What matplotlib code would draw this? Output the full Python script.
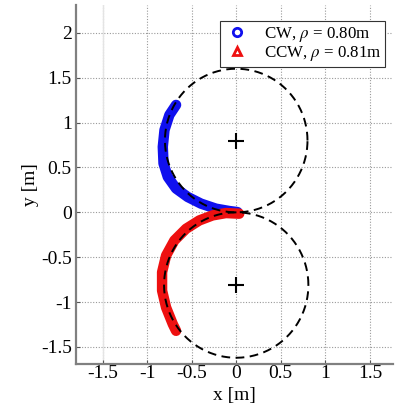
import numpy as np
import matplotlib
matplotlib.use("Agg")
import matplotlib.pyplot as plt
from matplotlib.lines import Line2D

# fitted circles (center, radius)
cw_center = (0.0, 0.80)
cw_radius = 0.80
ccw_center = (0.0, -0.81)
ccw_radius = 0.81

cw_x = [-0.675, -0.75, -0.805, -0.824, -0.816, -0.768, -0.675, -0.544, -0.395, -0.227, -0.078, 0.015]
cw_y = [1.197, 1.085, 0.917, 0.73, 0.545, 0.395, 0.265, 0.171, 0.097, 0.041, 0.015, 0.003]
ccw_x = [0.034, -0.115, -0.265, -0.414, -0.563, -0.694, -0.787, -0.832, -0.832, -0.787, -0.712, -0.675]
ccw_y = [-0.015, -0.008, -0.034, -0.09, -0.183, -0.313, -0.481, -0.667, -0.872, -1.06, -1.245, -1.32]

xticks = [-1.5, -1, -0.5, 0, 0.5, 1, 1.5]
yticks = [-1.5, -1, -0.5, 0, 0.5, 1, 1.5, 2]
xticklabels = ["-1.5", "-1", "-0.5", "0", "0.5", "1", "1.5"]
yticklabels = ["-1.5", "-1", "-0.5", "0", "0.5", "1", "1.5", "2"]

plt.rcParams['font.family'] = ['Liberation Serif', 'DejaVu Serif']
plt.rcParams['mathtext.fontset'] = 'stix'

fig = plt.figure(figsize=(3.95, 4.17), dpi=100)
ax = fig.add_axes([0.192, 0.127, 0.803, 0.861])

# grid
for xv in xticks:
    ax.axvline(xv, color='#9a9a9a', linestyle=(0, (1, 1.5)), linewidth=0.8, zorder=0)
for yv in yticks:
    ax.axhline(yv, color='#9a9a9a', linestyle=(0, (1, 1.5)), linewidth=0.8, zorder=0)
ax.axvline(-1.5, color='#e4e4e4', linewidth=1.0, zorder=0)

# trajectories
ax.plot(cw_x, cw_y, color='#1010ee', linewidth=7.5, solid_capstyle='round',
        solid_joinstyle='round', zorder=2)
ax.plot(ccw_x, ccw_y, color='#ee1010', linewidth=7.5, solid_capstyle='round',
        solid_joinstyle='round', zorder=2)

# fitted circles
t = np.linspace(0, 2 * np.pi, 400)
for (cx, cy), r in [(cw_center, cw_radius), (ccw_center, ccw_radius)]:
    ax.plot(cx + r * np.cos(t), cy + r * np.sin(t), color='black', linewidth=1.4,
            linestyle=(0, (4.5, 2.8)), zorder=3)
    ax.plot(cx, cy, marker='+', color='black', markersize=11, markeredgewidth=1.5, zorder=4)

ax.set_xlim(-1.8, 1.76)
ax.set_ylim(-1.69, 2.31)
ax.set_xticks(xticks)
ax.set_xticklabels(xticklabels)
ax.set_yticks(yticks)
ax.set_yticklabels(yticklabels)
ax.tick_params(direction='in', length=3, width=0.8, color='#555555', labelsize=14)
ax.tick_params(axis='x', pad=1)
ax.tick_params(axis='y', pad=3)

for s in ['top', 'right']:
    ax.spines[s].set_visible(False)
for s in ['left', 'bottom']:
    ax.spines[s].set_color('#808080')
    ax.spines[s].set_linewidth(1.6)

ax.set_xlabel('x [m]', fontsize=14, labelpad=3)
ax.set_ylabel('y [m]', fontsize=14, labelpad=1)

handles = [
    Line2D([], [], linestyle='none', marker='o', markersize=6, markerfacecolor='none',
           markeredgecolor='#1010ee', markeredgewidth=2),
    Line2D([], [], linestyle='none', marker='^', markersize=6, markerfacecolor='none',
           markeredgecolor='#ee1010', markeredgewidth=2),
]
labels = [r'CW, $\rho$ = 0.80m', r'CCW, $\rho$ = 0.81m']
leg = ax.legend(handles, labels, loc='upper right', bbox_to_anchor=(0.975, 0.955),
                fontsize=12.2, fancybox=False, framealpha=1, edgecolor='#333333',
                borderpad=0.2, labelspacing=0.05, handletextpad=0.8, handlelength=1.6,
                borderaxespad=0)
leg.get_frame().set_linewidth(0.8)

fig.savefig('out.png', dpi=100)
